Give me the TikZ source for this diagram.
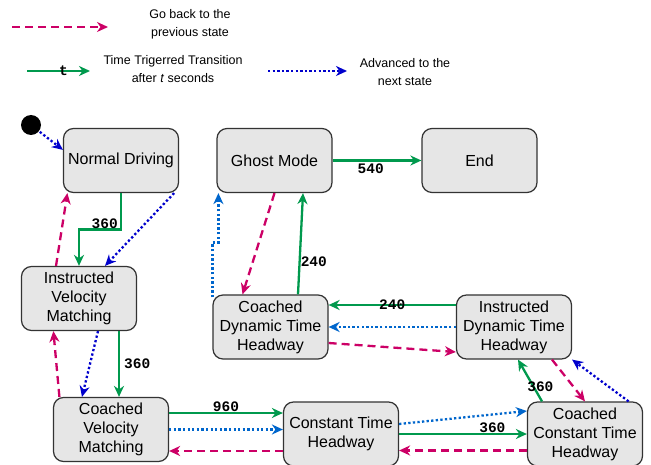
\documentclass[tikz,border=0pt]{standalone}
\usepackage{fontspec}
\setmainfont{Liberation Sans}
\setmonofont{Liberation Mono}
\usetikzlibrary{arrows.meta, positioning}

\definecolor{backpink}{HTML}{CC0066}
\definecolor{timegreen}{HTML}{00994D}
\definecolor{advblue}{HTML}{0000CC}
\definecolor{advlight}{HTML}{0066CC}
\definecolor{boxfill}{HTML}{E6E6E6}
\definecolor{boxline}{HTML}{333333}

\begin{document}
\begin{tikzpicture}[x=1pt, y=-1pt, line width=2.3pt,
    >={Stealth[length=11pt, width=10pt, inset=3.5pt]},
    phase/.style={rectangle, rounded corners=10pt, draw=boxline, line width=1.2pt,
        fill=boxfill, minimum width=115pt, minimum height=64pt, align=center,
        font=\fontsize{16}{19}\selectfont},
    timed/.style={->, timegreen},
    goback/.style={->, backpink, dash pattern=on 8pt off 5pt},
    advance/.style={->, advblue, dash pattern=on 2.3pt off 2.3pt},
    advancelt/.style={->, advlight, dash pattern=on 2.3pt off 2.3pt},
    lbl/.style={font=\fontsize{14.5}{16}\selectfont\ttfamily\bfseries, inner sep=0pt, text=black},
    legend/.style={align=center, font=\fontsize{12.5}{18}\selectfont}]
    \useasboundingbox (0,0) rectangle (651,465);

    % legend
    \coordinate (back a) at (12,27);
    \coordinate (back b) at (108,27);
    \coordinate (time a) at (27,71);
    \coordinate (time b) at (90,71);
    \coordinate (adv a) at (268,71);
    \coordinate (adv b) at (347,71);
    \node[legend] (back txt) at (190,24) {Go back to the\\previous state};
    \node[legend] (time txt) at (173,69.5) {Time Trigerred Transition\\after \textit{t} seconds};
    \node[legend] (adv txt) at (405,72) {Advanced to the\\next state};
    \draw   (back a) edge[goback] (back b)
            (time a) edge[timed] node[lbl, pos=0.58]{t} (time b)
            (adv a) edge[advance] (adv b);

    % states
    \node[circle, fill=black, minimum size=20pt, inner sep=0pt] (start) at (31,125) {};
    \node[phase] (ND)     at (121,160.5)   {Normal Driving};
    \node[phase] (GM)     at (274.5,160.5) {Ghost Mode};
    \node[phase] (finish) at (479.5,160.5) {End};
    \node[phase] (IVM)    at (79,298.5)    {Instructed\\Velocity\\Matching};
    \node[phase] (CVM)    at (111,429.5)   {Coached\\Velocity\\Matching};
    \node[phase] (CDTH)   at (270.5,327)   {Coached\\Dynamic Time\\Headway};
    \node[phase] (IDTH)   at (514,327)     {Instructed\\Dynamic Time\\Headway};
    \node[phase] (CTH)    at (341,434)     {Constant Time\\Headway};
    \node[phase] (CCTH)   at (585,434)     {Coached\\Constant Time\\Headway};

    % transitions
    \draw   (start) edge[advance] ([yshift=-22pt]ND.north west)
            ([xshift=-5pt]ND.south east) edge[advance] ([xshift=26pt]IVM.north)
            ([xshift=-23pt]IVM.north) edge[goback] ([xshift=4.5pt]ND.south west)
            ([xshift=40pt]IVM.south) edge[timed] node[lbl, right=4pt]{360} ([xshift=8pt]CVM.north)
            ([xshift=19pt]IVM.south) edge[advance] ([xshift=-29pt]CVM.north)
            ([xshift=6.5pt]CVM.north west) edge[goback] ([xshift=32.5pt]IVM.south west)
            ([yshift=16.5pt]CVM.east) edge[timed] node[lbl, above]{960} ([yshift=21pt]CTH.west)
            (CVM.east) edge[advancelt] ([yshift=4.5pt]CTH.west)
            ([yshift=-17pt]CTH.west) edge[goback] ([yshift=-21.5pt]CVM.east)
            ([yshift=10pt]CTH.east) edge[advancelt] ([yshift=23pt]CCTH.west)
            (CTH.east) edge[timed] node[lbl, above, pos=0.73]{360} (CCTH.west)
            ([yshift=-16.5pt]CCTH.west) edge[goback] ([yshift=-16.5pt]CTH.east)
            ([xshift=-43pt]CCTH.north) edge[timed] node[lbl, pos=0.36, xshift=7pt]{360} ([xshift=4pt]IDTH.south)
            ([xshift=38pt]IDTH.south) edge[goback] (CCTH.north)
            ([xshift=-14.5pt]CCTH.north east) edge[advance] (IDTH.south east)
            ([yshift=22pt]IDTH.west) edge[timed] node[lbl]{240} ([yshift=22pt]CDTH.east)
            (IDTH.west) edge[advancelt] (CDTH.east)
            ([yshift=-16pt]CDTH.east) edge[goback] ([yshift=-25pt]IDTH.west)
            ([xshift=27.5pt]CDTH.north) edge[timed] node[lbl, right, pos=0.32]{240} ([xshift=28.5pt]GM.south)
            (GM.south) edge[goback] ([xshift=-28pt]CDTH.north)
            (GM.east) edge[timed] node[lbl, below=2pt, pos=0.43]{540} (finish.west);
    \draw[timed] (ND.south) -- ++(0,36.5) node[lbl, anchor=south east, xshift=-2pt]{360} -| (IVM.north);
    \draw[advancelt] ([yshift=-3pt]CDTH.north west) -- ++(0,-55) -| ([xshift=2pt]GM.south west);
\end{tikzpicture}
\end{document}
